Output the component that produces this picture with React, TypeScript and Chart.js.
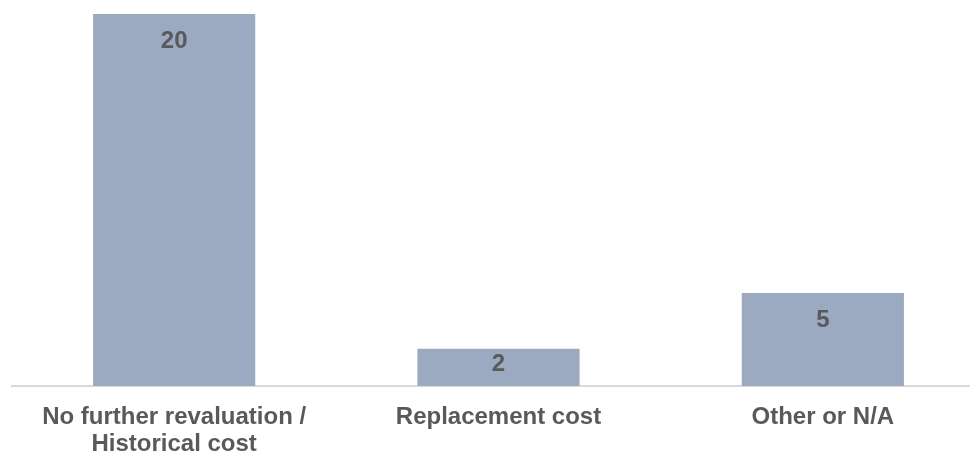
import React, { useEffect, useRef } from "react";
import { Chart, registerables } from "chart.js";

Chart.register(...registerables);

const categories: (string | string[])[] = [
  ["No further revaluation /", "Historical cost"],
  "Replacement cost",
  "Other or N/A",
];
const values: number[] = [20, 2, 5];

const BAR_COLOR = "#9BAAC0";
const TEXT_COLOR = "#595959";
const FONT_FAMILY = "'Liberation Sans', Arial, sans-serif";

const valueLabels = {
  id: "valueLabels",
  afterDatasetsDraw(chart: any) {
    const ctx = chart.ctx;
    const meta = chart.getDatasetMeta(0);
    const base = chart.scales.y.getPixelForValue(0);
    ctx.save();
    ctx.font = `bold 24px ${FONT_FAMILY}`;
    ctx.fillStyle = TEXT_COLOR;
    ctx.textAlign = "center";
    ctx.textBaseline = "middle";
    meta.data.forEach((bar: any, i: number) => {
      const y = Math.min(bar.y + 27, base - 22);
      ctx.fillText(String(values[i]), bar.x, y);
    });
    ctx.restore();
  },
};

export default function App() {
  const ref = useRef<HTMLCanvasElement | null>(null);
  useEffect(() => {
    document.body.style.margin = "0";
    document.body.style.overflow = "hidden";
    const chart = new Chart(ref.current!, {
      type: "bar",
      data: {
        labels: categories,
        datasets: [
          {
            data: values,
            backgroundColor: BAR_COLOR,
            barPercentage: 0.5,
            categoryPercentage: 1,
          },
        ],
      },
      options: {
        animation: false,
        responsive: false,
        maintainAspectRatio: false,
        layout: { padding: { top: 14, left: 12, right: 0, bottom: 0 } },
        plugins: { legend: { display: false }, tooltip: { enabled: false } },
        scales: {
          x: {
            grid: { display: false, drawTicks: false },
            border: { display: true, color: "#D9D9D9", width: 2 },
            ticks: {
              color: TEXT_COLOR,
              font: { family: FONT_FAMILY, size: 24, weight: "bold", lineHeight: 1.125 },
              padding: 18,
              maxRotation: 0,
              autoSkip: false,
            },
            afterFit: (scale: any) => {
              scale.height = 67;
            },
          },
          y: {
            display: false,
            min: 0,
            max: 20,
          },
        },
      },
      plugins: [valueLabels],
    });
    return () => chart.destroy();
  }, []);
  return (
    <div style={{ width: 970, height: 453, overflow: "hidden" }}>
      <canvas ref={ref} width={985} height={453} style={{ display: "block" }} />
    </div>
  );
}
